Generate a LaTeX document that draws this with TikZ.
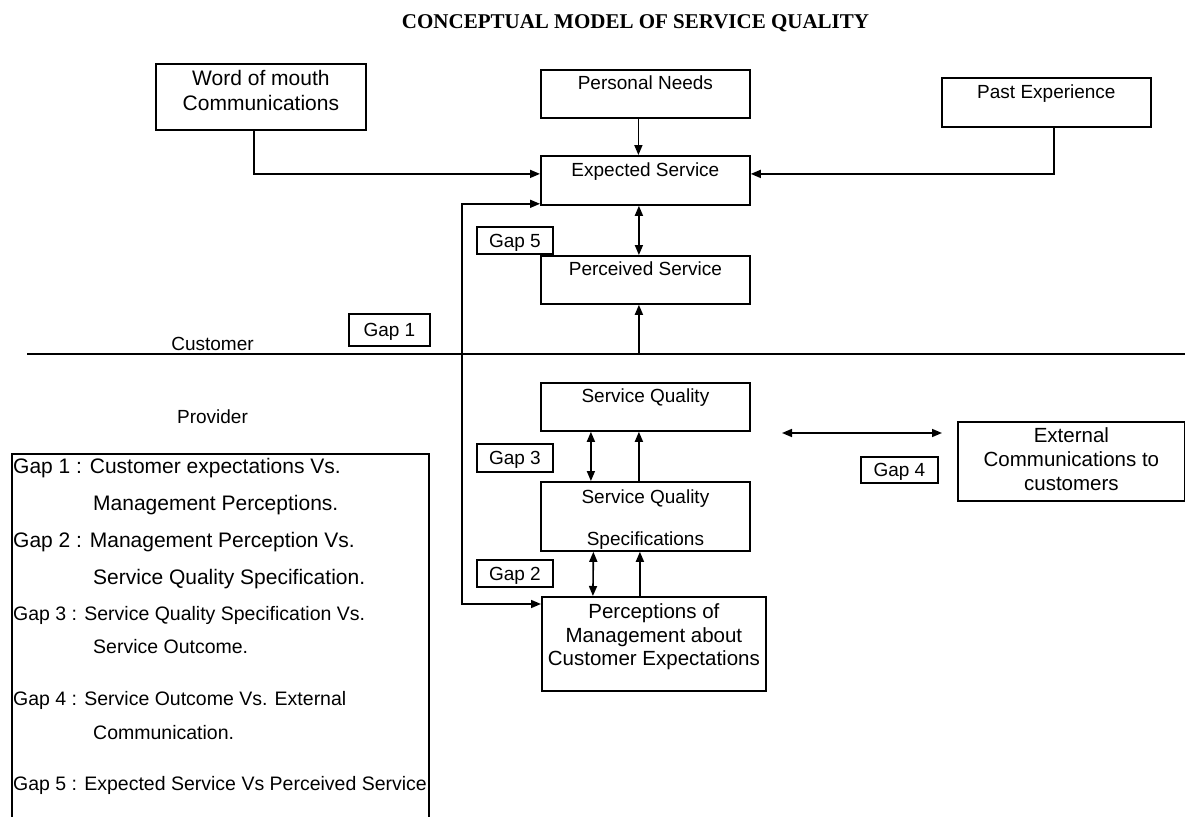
\documentclass[tikz,border=0pt]{standalone}
\usepackage{fontspec}
\setmainfont{Liberation Sans}
\newfontfamily\titlefont{Liberation Serif}
\usetikzlibrary{arrows.meta,positioning}

\begin{document}
\begin{tikzpicture}[
  x=1pt,y=-1pt,
  box/.style={
    draw,
    line width=1.8pt,
    anchor=north west,
    inner sep=0pt,
    align=center,
    font=\fontsize{19}{22}\selectfont
  },
  topbox/.style={box,minimum width=209pt,minimum height=48pt,text height=13.6pt,text depth=22pt},
  gapbox/.style={box,minimum width=76pt,minimum height=27pt,text height=13.6pt,text depth=0pt},
  deflbl/.style={anchor=base west,inner sep=0pt,align=left},
  flow/.style={-{Triangle[length=10pt,width=8pt]},line width=1.6pt},
  both/.style={{Triangle[length=10pt,width=8pt]}-{Triangle[length=10pt,width=8pt]},line width=1.6pt}
]
\useasboundingbox (0,0) rectangle (1185,816);
\node[anchor=base,inner sep=0pt,font=\titlefont\bfseries\fontsize{21}{25}\selectfont] (title) at (635.5,29)
  {CONCEPTUAL MODEL OF SERVICE QUALITY};
% customer side
\node[box,minimum width=210pt,minimum height=66pt,font=\fontsize{21}{25}\selectfont,text height=33pt,text depth=5pt] (wom) at (155,63)
  {Word of mouth\\Communications};
\node[topbox] (pn) at (540,69) {Personal Needs};
\node[topbox,minimum height=49pt] (past) at (941,77) {Past Experience};
\node[topbox,minimum height=49pt] (es) at (540,155) {Expected Service};
\node[gapbox] (gap5) at (476,226) {Gap 5};
\node[topbox] (ps) at (540,255) {Perceived Service};
\node[gapbox,minimum width=81pt,minimum height=32pt] (gap1) at (348,313) {Gap 1};
\node[anchor=base,inner sep=0pt,font=\fontsize{19}{22}\selectfont] (cust) at (212.5,350) {Customer};
\coordinate (divl) at (27,354);
\coordinate (divr) at (1185,354);
% provider side
\node[anchor=base,inner sep=0pt,font=\fontsize{19}{22}\selectfont] (prov) at (212.5,423) {Provider};
\node[topbox] (sq) at (540,382) {Service Quality};
\node[gapbox,minimum height=28pt] (gap3) at (476,443) {Gap 3};
\node[box,minimum width=209pt,minimum height=63pt,text height=64pt,text depth=5pt] (sqs) at (540,481)
  {Service Quality\\[20pt]Specifications};
\node[gapbox] (gap2) at (476,559) {Gap 2};
\node[box,minimum width=224pt,minimum height=94pt,font=\fontsize{20.5}{23.5}\selectfont,text height=49pt,text depth=5pt] (pm) at (541,596)
  {Perceptions of\\Management about\\Customer Expectations};
\node[box,minimum width=227pt,minimum height=79pt,font=\fontsize{20.5}{24}\selectfont,text height=64pt,text depth=5pt] (ext) at (957,421)
  {External\\Communications to\\customers};
\node[gapbox,minimum width=77pt,minimum height=26pt] (gap4) at (860,456) {Gap 4};
\coordinate (g4l) at (782,433);
\coordinate (g4r) at (942,433);
% legend
\node[draw,line width=1.8pt,anchor=north west,inner sep=0pt,minimum width=417pt,minimum height=372pt] (legend) at (11,453) {};
\node[deflbl,font=\fontsize{21}{37}\selectfont] (def1) at (13,510)
  {Gap 1 : Customer expectations Vs.\\\hspace*{80pt}Management Perceptions.};
\node[deflbl,font=\fontsize{21}{37}\selectfont] (def2) at (13,584)
  {Gap 2 : Management Perception Vs.\\\hspace*{80pt}Service Quality Specification.};
\node[deflbl,font=\fontsize{19.5}{33}\selectfont] (def3) at (13,653)
  {Gap 3 : Service Quality Specification Vs.\\\hspace*{80pt}Service Outcome.};
\node[deflbl,font=\fontsize{19.5}{34}\selectfont] (def4) at (13,739)
  {Gap 4 : Service Outcome Vs. External\\\hspace*{80pt}Communication.};
\node[deflbl,font=\fontsize{19.5}{34}\selectfont] (def5) at (13,790)
  {Gap 5 : Expected Service Vs Perceived Service};
% connectors
\draw[flow] ([xshift=-7pt]wom.south) |- ([yshift=6.5pt]es.west);
\draw[flow] ([xshift=7.5pt]past.south) |- ([yshift=6.5pt]es.east);
\draw[flow] ([xshift=-7pt]pn.south) -- ([xshift=-7pt]es.north);
\draw[both] ([xshift=-6.5pt]es.south) -- ([xshift=-6.5pt]ps.north);
\coordinate (psin) at ([xshift=-6.5pt]ps.south);
\draw[flow] (psin |- divl) -- (psin);
\draw[line width=1.4pt] (divl) -- (divr);
\draw[both] ([xshift=-54.5pt]sq.south) -- ([xshift=-54.5pt]sqs.north);
\draw[flow] ([xshift=-6.5pt]sqs.north) -- ([xshift=-6.5pt]sq.south);
\draw[both] ([xshift=-52pt]sqs.south) -- ([xshift=-61pt]pm.north);
\draw[flow] ([xshift=-14pt]pm.north) -- ([xshift=-5.5pt]sqs.south);
\coordinate (fbk) at (462,400);
\draw[both] ([yshift=2pt]es.south west) -| (fbk) |- ([yshift=-8pt]pm.north west);
\draw[both] (g4l) -- (g4r);
\end{tikzpicture}
\end{document}
